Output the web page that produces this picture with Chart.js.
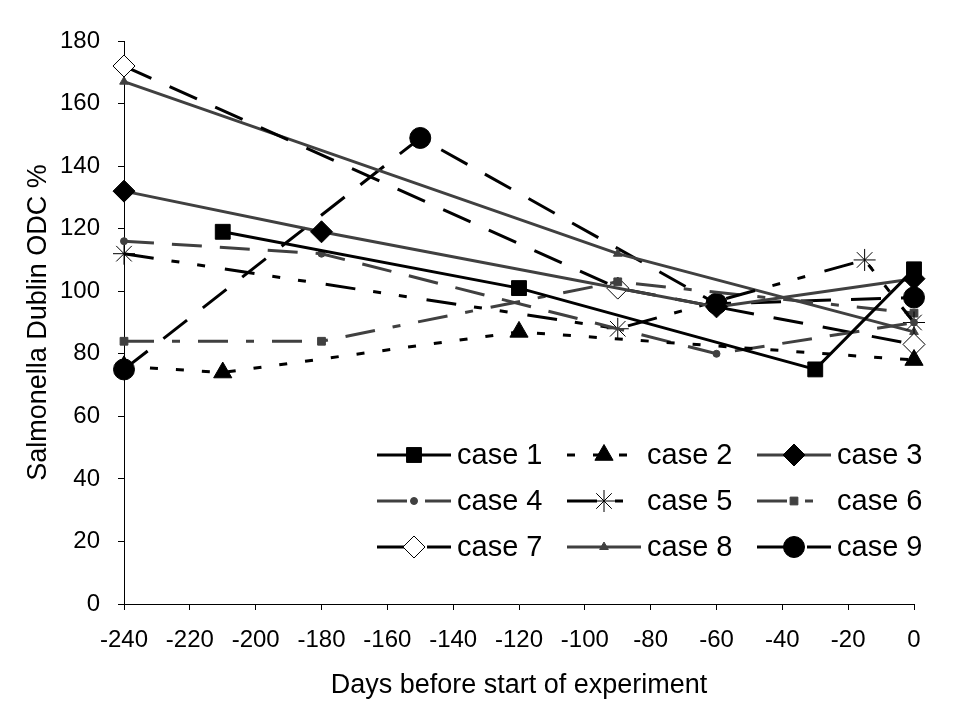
<!DOCTYPE html>
<html>
<head>
<meta charset="utf-8">
<script src="https://cdn.jsdelivr.net/npm/chart.js@4.4.1/dist/chart.umd.min.js"></script>
<style>
  html, body { margin: 0; padding: 0; background: #fff; }
</style>
</head>
<body>
<canvas id="odcChart" width="960" height="720"></canvas>
<script>
// days before start of experiment / Salmonella Dublin ODC % for each case
const case1Days = [-210, -120, -30, 0];
const case1Odc  = [119, 101, 75, 107];
const case2Days = [-240, -210, -120, 0];
const case2Odc  = [76, 74, 87, 78];
const case3Days = [-240, -180, -60, 0];
const case3Odc  = [132, 119, 95, 104];
const case4Days = [-240, -180, -60, 0];
const case4Odc  = [116, 112, 80, 90];
const case5Days = [-240, -90, -15, 0];
const case5Odc  = [112, 88, 110, 90];
const case6Days = [-240, -180, -90, 0];
const case6Odc  = [84, 84, 103, 93];
const case7Days = [-240, -90, 0];
const case7Odc  = [172, 101, 83];
const case8Days = [-240, -90, 0];
const case8Odc  = [167, 112, 87];
const case9Days = [-240, -150, -60, 0];
const case9Odc  = [75, 149, 96, 98];

const caseLabels = ['case 1', 'case 2', 'case 3', 'case 4', 'case 5', 'case 6', 'case 7', 'case 8', 'case 9'];
const xTicks = { min: -240, max: 0, step: 20 };
const yTicks = { min: 0, max: 180, step: 20 };

const black = '#000000';
const gray = '#404040';

function pts(days, vals) {
  return days.map((d, i) => ({ x: d, y: vals[i] }));
}

function line(label, days, vals, color, dash, style, radius, fill, markColor) {
  return {
    label: label,
    data: pts(days, vals),
    borderColor: color,
    borderWidth: 3,
    borderDash: dash,
    pointStyle: style,
    pointRadius: radius,
    pointBackgroundColor: fill,
    pointBorderColor: markColor,
    pointBorderWidth: 1,
    tension: 0,
    fill: false,
    clip: false
  };
}

const datasets = [
  line(caseLabels[0], case1Days, case1Odc, black, [], 'rect', 10.5, black, black),
  line(caseLabels[1], case2Days, case2Odc, black, [8, 18], 'triangle', 10.5, black, black),
  line(caseLabels[2], case3Days, case3Odc, gray, [], 'rectRot', 11, black, black),
  line(caseLabels[3], case4Days, case4Odc, gray, [30, 18], 'circle', 3.5, gray, gray),
  line(caseLabels[4], case5Days, case5Odc, black, [30, 18, 8, 18, 8, 20], 'star', 11, black, black),
  line(caseLabels[5], case6Days, case6Odc, gray, [30, 18, 8, 18], 'rect', 5.5, gray, gray),
  line(caseLabels[6], case7Days, case7Odc, black, [30, 20], 'rectRot', 11, '#ffffff', black),
  line(caseLabels[7], case8Days, case8Odc, gray, [], 'triangle', 5, gray, gray),
  line(caseLabels[8], case9Days, case9Odc, black, [30, 20], 'circle', 10.5, black, black)
];

// legend drawn inside the plot, 3 x 3 grid at the bottom right
const legendColX = [377, 567, 757];
const legendRowY = [455, 501, 547];

const insideLegend = {
  id: 'insideLegend',
  afterDraw(chart) {
    const ctx = chart.ctx;
    chart.data.datasets.forEach((ds, i) => {
      const x0 = legendColX[i % 3];
      const y0 = legendRowY[Math.floor(i / 3)];
      ctx.save();
      ctx.strokeStyle = ds.borderColor;
      ctx.lineWidth = ds.borderWidth;
      ctx.setLineDash(ds.borderDash);
      ctx.beginPath();
      ctx.moveTo(x0, y0);
      ctx.lineTo(x0 + 74, y0);
      ctx.stroke();
      ctx.setLineDash([]);
      ctx.fillStyle = ds.pointBackgroundColor;
      ctx.strokeStyle = ds.pointBorderColor;
      ctx.lineWidth = ds.pointBorderWidth;
      Chart.helpers.drawPoint(ctx, {
        pointStyle: ds.pointStyle,
        radius: ds.pointRadius,
        borderWidth: ds.pointBorderWidth,
        rotation: 0
      }, x0 + 37, y0);
      ctx.fillStyle = '#000';
      ctx.font = '29px "Liberation Sans", Arial, sans-serif';
      ctx.textBaseline = 'middle';
      ctx.textAlign = 'left';
      ctx.fillText(ds.label, x0 + 80, y0 + 1);
      ctx.restore();
    });
  }
};

const font = { family: '"Liberation Sans", Arial, sans-serif' };

new Chart(document.getElementById('odcChart'), {
  type: 'line',
  data: { datasets: datasets },
  plugins: [insideLegend],
  options: {
    responsive: false,
    animation: false,
    events: [],
    layout: { padding: { top: 41, right: 46, bottom: 0, left: 0 } },
    plugins: {
      legend: { display: false },
      tooltip: { enabled: false }
    },
    scales: {
      x: {
        type: 'linear',
        min: xTicks.min,
        max: xTicks.max,
        afterFit: s => { s.height = 116; },
        ticks: {
          stepSize: xTicks.step,
          autoSkip: false,
          maxRotation: 0,
          padding: 16,
          color: '#000',
          font: { family: font.family, size: 24 }
        },
        grid: { drawOnChartArea: false, drawTicks: true, tickLength: 6, color: '#000' },
        border: { display: true, color: '#000', width: 1 },
        title: {
          display: true,
          text: 'Days before start of experiment',
          color: '#000',
          font: { family: font.family, size: 27 },
          padding: { top: 0, bottom: 18 }
        }
      },
      y: {
        min: yTicks.min,
        max: yTicks.max,
        afterFit: s => { s.width = 124; },
        ticks: {
          stepSize: yTicks.step,
          padding: 18,
          color: '#000',
          font: { family: font.family, size: 24 }
        },
        grid: { drawOnChartArea: false, drawTicks: true, tickLength: 6, color: '#000' },
        border: { display: true, color: '#000', width: 1 },
        title: {
          display: true,
          text: 'Salmonella Dublin ODC %',
          color: '#000',
          font: { family: font.family, size: 27 },
          padding: { top: 22, bottom: 0 }
        }
      }
    }
  }
});
</script>
</body>
</html>
